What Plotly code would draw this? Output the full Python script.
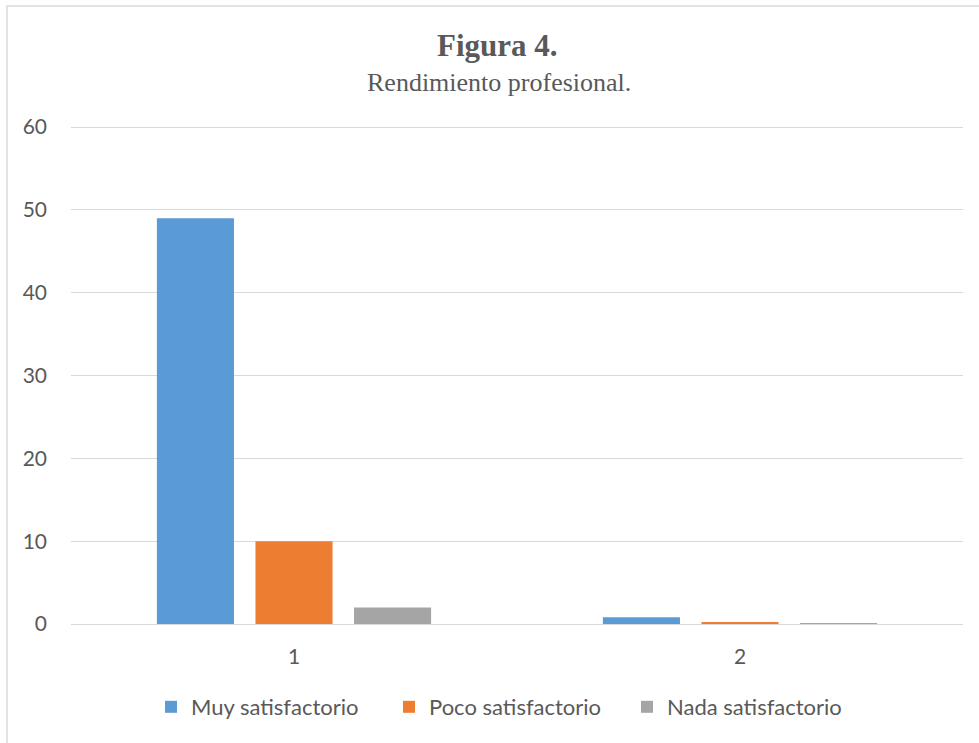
import plotly.graph_objects as go

categories = ["1", "2"]
muy_satisfactorio = [49, 0.8]
poco_satisfactorio = [10, 0.16]
nada_satisfactorio = [2, 0.03]

series = [
    ("Muy satisfactorio", muy_satisfactorio, "#5B9BD5"),
    ("Poco satisfactorio", poco_satisfactorio, "#ED7D31"),
    ("Nada satisfactorio", nada_satisfactorio, "#A5A5A5"),
]

fig = go.Figure()
for name, vals, color in series:
    fig.add_trace(go.Bar(x=categories, y=vals, name=name,
                         marker=dict(color=color, line=dict(width=0)),
                         hoverinfo="x+y+name"))

W, H = 979, 743
L, R, T, B = 71, 16, 125, 119
pw, ph = W - L - R, H - T - B

def px_x(p):
    return (p - L) / pw

def px_y(p):
    return (H - B - p) / ph

tick_font = dict(family="Lato, Open Sans, sans-serif", size=21, color="#595959")

fig.update_layout(
    width=W, height=H,
    margin=dict(l=L, r=R, t=T, b=B, autoexpand=False),
    paper_bgcolor="white", plot_bgcolor="white",
    barmode="group", bargap=0.337, bargroupgap=0.218,
    showlegend=True,
    legend=dict(orientation="h", x=px_x(151), xanchor="left", y=px_y(707), yanchor="middle",
                font=dict(family="Lato, Open Sans, sans-serif", size=22, color="#595959"),
                itemwidth=30, tracegroupgap=0, traceorder="normal",
                entrywidth=193, entrywidthmode="pixels"),
    xaxis=dict(type="category", showgrid=False, showline=True, linecolor="#d9d9d9",
               linewidth=1, ticks="", tickfont=tick_font, ticklabelstandoff=14,
               range=[-0.5, 1.5]),
    yaxis=dict(range=[0, 60.25], tickvals=[0, 10, 20, 30, 40, 50, 60], showgrid=True,
               gridcolor="#d9d9d9", gridwidth=1,
               zeroline=True, zerolinecolor="#d9d9d9", zerolinewidth=1,
               showline=False, ticks="", tickfont=tick_font, ticklabelstandoff=23),
    annotations=[
        dict(text="<b>Figura 4.</b>", xref="paper", yref="paper",
             x=px_x(497), y=px_y(46), xanchor="center", yanchor="middle", showarrow=False,
             font=dict(family="Liberation Serif, Times New Roman, serif", size=31, color="#595959")),
        dict(text="Rendimiento profesional.", xref="paper", yref="paper",
             x=px_x(499), y=px_y(82), xanchor="center", yanchor="middle", showarrow=False,
             font=dict(family="Liberation Serif, Times New Roman, serif", size=26, color="#595959")),
    ],
    shapes=[
        dict(type="rect", xref="paper", yref="paper",
             x0=px_x(7), x1=px_x(1000), y0=px_y(760), y1=px_y(6),
             line=dict(color="#d9d9d9", width=1.5), fillcolor="rgba(0,0,0,0)", layer="below"),
    ],
)

fig.write_html("out.html", config={"displayModeBar": False},
               post_script="document.body.style.margin='0';document.body.style.overflow='hidden';")
